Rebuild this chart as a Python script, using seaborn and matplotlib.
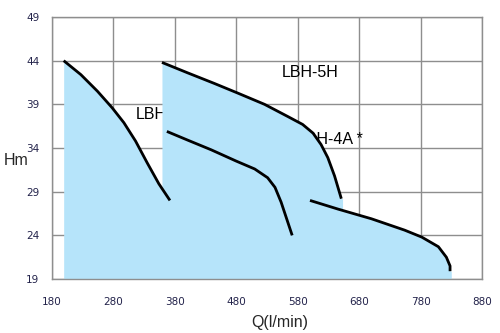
import matplotlib
matplotlib.use("Agg")
import matplotlib.pyplot as plt
import pandas as pd
import seaborn as sns

# Pump performance curves: flow Q (l/min) vs head H (m)
q_a = [199, 227, 254, 278, 297, 316, 335, 354, 372]
h_a = [44.0, 42.4, 40.5, 38.6, 36.9, 34.8, 32.3, 29.9, 28.0]

q_5h = [359, 401, 444, 482, 526, 564, 588, 605, 618, 629, 640, 651]
h_5h = [43.8, 42.6, 41.4, 40.3, 39.0, 37.6, 36.7, 35.7, 34.4, 32.9, 30.8, 28.2]

q_4a = [367, 401, 439, 480, 510, 531, 543, 553, 562, 571]
h_4a = [35.9, 34.9, 33.8, 32.5, 31.6, 30.6, 29.5, 27.8, 25.9, 24.0]

q_d = [600, 646, 700, 754, 782, 809, 822, 828, 828]
h_d = [28.0, 27.0, 25.9, 24.6, 23.8, 22.7, 21.5, 20.5, 19.9]

x_ticks = [180, 280, 380, 480, 580, 680, 780, 880]
y_ticks = [19, 24, 29, 34, 39, 44, 49]

labels = {"LBH-4H": (317, 37.8), "LBH-5H": (554, 42.7), "LBH-4A *": (579, 35.0)}

sns.set_style("white")
plt.rcParams["font.family"] = ["Liberation Sans", "DejaVu Sans"]

fig = plt.figure(figsize=(5.0, 3.33), dpi=100)
ax = fig.add_axes([0.104, 0.162, 0.860, 0.787])

curves = [(q_a, h_a), (q_5h, h_5h), (q_4a, h_4a), (q_d, h_d)]
names = ["A", "5H", "4A", "D"]
df = pd.concat(
    [pd.DataFrame({"Q": q, "H": h, "curve": n}) for n, (q, h) in zip(names, curves)],
    ignore_index=True,
)

# Operating area shaded under the outer curves
fill_color = "#b6e4fa"
for q, h in [(q_a, h_a), (q_5h, h_5h), (q_d, h_d)]:
    qq = list(q) + [q[-1] + 2]
    hh = list(h) + [h[-1]]
    ax.fill_between(qq, hh, 19, color=fill_color, lw=0, zorder=2)

# Curve names sit underneath the shaded area
for text, (x, y) in labels.items():
    ax.text(x, y, text, fontsize=11.5, color="black", va="center", ha="left", zorder=1)

sns.lineplot(data=df, x="Q", y="H", units="curve", estimator=None, sort=False,
             color="black", lw=2.0, ax=ax, zorder=4)
for ln in ax.get_lines():
    ln.set_solid_joinstyle("round")
    ln.set_solid_capstyle("butt")

ax.set_xlim(180, 880)
ax.set_ylim(19, 49)
ax.set_xticks(x_ticks)
ax.set_yticks(y_ticks)
ax.grid(True, color="#8e8e8e", lw=1.0)
for gl in ax.get_xgridlines() + ax.get_ygridlines():
    gl.set_zorder(3)

for s in ax.spines.values():
    s.set_color("#8e8e8e")
    s.set_linewidth(1.0)
    s.set_zorder(3)

ax.tick_params(axis="both", which="both", length=4, width=1, color="#8e8e8e",
               labelsize=7.5, labelcolor="#22224a", direction="out")
ax.tick_params(axis="x", pad=9)
ax.tick_params(axis="y", pad=5)
for lab in ax.get_xticklabels() + ax.get_yticklabels():
    lab.set_family("DejaVu Sans")

ax.set_xlabel("Q(l/min)", fontsize=11.5, va="center")
ax.set_ylabel("Hm", fontsize=11.5, rotation=0, ha="center", va="center")
ax.xaxis.set_label_coords(0.53, -0.164)
ax.yaxis.set_label_coords(-0.084, 0.454)

fig.savefig("out.png", dpi=100)
